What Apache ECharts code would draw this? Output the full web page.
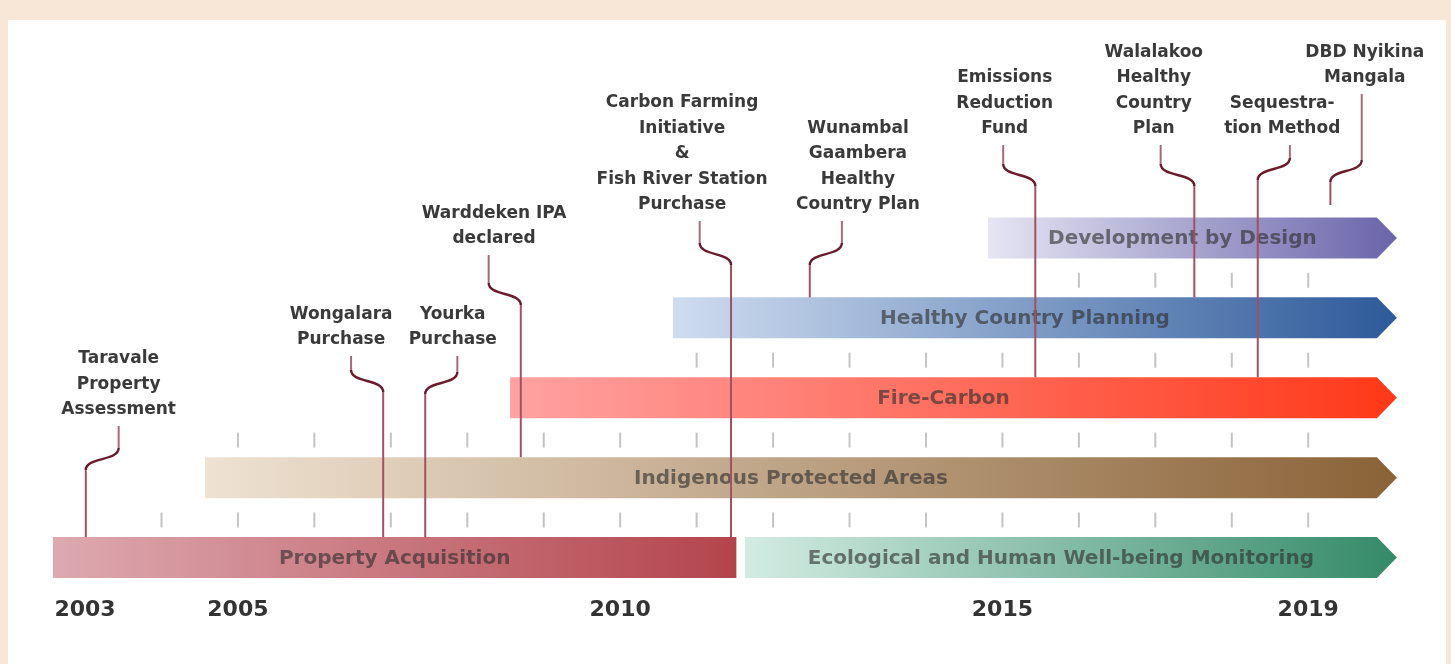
<!DOCTYPE html>
<html>
<head>
<meta charset="utf-8">
<script src="https://cdn.jsdelivr.net/npm/echarts@6/dist/echarts.min.js"></script>
<style>
html,body{margin:0;padding:0;background:#f8e6d6;}
#chart{width:1451px;height:664px;}
</style>
</head>
<body>
<div id="chart"></div>
<script>
// ---------------- data ----------------
const programNames = ['Property Acquisition', 'Ecological and Human Well-being Monitoring', 'Indigenous Protected Areas', 'Fire-Carbon', 'Healthy Country Planning', 'Development by Design'];
const programRows = [0, 0, 1, 2, 3, 4];
const programStart = [2002.58, 2011.63, 2004.57, 2008.56, 2010.69, 2014.81];
const programEnd = [2011.52, 2020.16, 2020.16, 2020.16, 2020.16, 2020.16];
const programOngoing = [false, true, true, true, true, true];

const yearLabels = [2003, 2005, 2010, 2015, 2019];
const tickGapFirstYear = [2004, 2005, 2011, 2016];   // first year tick in the gap above row i
const tickLastYear = 2019;

const eventNames = [
  'Taravale\nProperty\nAssessment',
  'Wongalara\nPurchase',
  'Yourka\nPurchase',
  'Warddeken IPA\ndeclared',
  'Carbon Farming\nInitiative\n&\nFish River Station\nPurchase',
  'Wunambal\nGaambera\nHealthy\nCountry Plan',
  'Emissions\nReduction\nFund',
  'Walalakoo\nHealthy\nCountry\nPlan',
  'Sequestra-\ntion Method',
  'DBD Nyikina\nMangala'
];
const eventYears = [2003.01, 2006.90, 2007.45, 2008.70, 2011.45, 2012.48, 2015.43, 2017.51, 2018.34, 2019.29];
const eventRows = [0, 0, 0, 1, 0, 3, 2, 3, 2, null];

// ---------------- layout (label placement) ----------------
const eventStemYear  = [2003.44, 2006.48, 2007.87, 2008.28, 2011.04, 2012.90, 2015.01, 2017.07, 2018.76, 2019.70];
const eventLabelYear = [2003.44, 2006.35, 2007.81, 2008.35, 2010.81, 2013.11, 2015.03, 2016.98, 2018.66, 2019.74];
const eventBendLevel = [1.370, 2.347, 2.322, 3.436, 3.936, 3.936, 4.925, 4.925, 5.000, 4.975];
const eventLabelLevel = [1.846, 2.722, 2.722, 3.986, 4.412, 4.412, 5.363, 5.363, 5.363, 6.001];

// ---------------- styles ----------------
const barColors = [
  ['#dda9b0', '#b4444c'],
  ['#d3ece3', '#348a68'],
  ['#efe2d2', '#8a6237'],
  ['#ffa2a2', '#ff3818'],
  ['#cfdcf0', '#2d5a9a'],
  ['#e5e5f3', '#6a64aa']
];
const BAR_H = 0.513;
const ARROW_LEN = 20;
const CURVE_H = 22;
const LINE_H = 25.5;
const FONT = '"DejaVu Sans", Verdana, sans-serif';

const chart = echarts.init(document.getElementById('chart'), null, {renderer: 'canvas'});

const barData = programStart.map((s, i) => [s, programEnd[i], programRows[i]]);
const tickData = [];
tickGapFirstYear.forEach((y0, g) => {
  for (let y = y0; y <= tickLastYear; y++) tickData.push([y, g]);
});
const eventData = eventYears.map((x, i) => [x, eventBendLevel[i]]);

function renderBar(params, api) {
  const i = params.dataIndex;
  const row = api.value(2);
  const a = api.coord([api.value(0), row]);
  const b = api.coord([api.value(1), row]);
  const h = api.size([0, BAR_H])[1];
  const top = a[1] - h / 2, bot = a[1] + h / 2;
  const arr = programOngoing[i] ? ARROW_LEN : 0;
  const pts = arr
    ? [[a[0], top], [b[0] - arr, top], [b[0], a[1]], [b[0] - arr, bot], [a[0], bot]]
    : [[a[0], top], [b[0], top], [b[0], bot], [a[0], bot]];
  return {
    type: 'group',
    children: [
      {
        type: 'polygon',
        shape: {points: pts},
        style: {
          fill: {type: 'linear', x: 0, y: 0, x2: 1, y2: 0,
                 colorStops: [{offset: 0, color: barColors[i][0]}, {offset: 1, color: barColors[i][1]}]}
        }
      },
      {
        type: 'text',
        style: {
          text: programNames[i],
          x: (a[0] + b[0] - arr) / 2,
          y: a[1] + 1,
          align: 'center',
          verticalAlign: 'middle',
          fontSize: 20,
          fontWeight: 'bold',
          fontFamily: FONT,
          fill: 'rgba(45,45,45,0.62)'
        }
      }
    ]
  };
}

function renderTick(params, api) {
  const p = api.coord([api.value(0), api.value(1) + 0.47]);
  return {
    type: 'line',
    shape: {x1: p[0], y1: p[1] - 7.5, x2: p[0], y2: p[1] + 7.5},
    style: {stroke: '#c4c4c4', lineWidth: 2}
  };
}

function renderEvent(params, api) {
  const i = params.dataIndex;
  const xL = api.coord([eventYears[i], 0])[0];
  const xU = api.coord([eventStemYear[i], 0])[0];
  const yt = api.coord([0, eventBendLevel[i]])[1];
  const yb = yt + CURVE_H;
  const yEnd = eventRows[i] === null ? yb + 23 : api.coord([0, eventRows[i] + BAR_H / 2])[1];
  const yLab = api.coord([0, eventLabelLevel[i]])[1];
  const xLab = api.coord([eventLabelYear[i], 0])[0];
  const yStemTop = yLab + 16;
  return {
    type: 'group',
    children: [
      {type: 'line', shape: {x1: xL, y1: yEnd, x2: xL, y2: yb},
       style: {stroke: '#a5505f', lineWidth: 2}},
      {type: 'bezierCurve',
       shape: {x1: xL, y1: yb, cpx1: xL, cpy1: yb - 0.6 * CURVE_H, cpx2: xU, cpy2: yt + 0.6 * CURVE_H, x2: xU, y2: yt},
       style: {stroke: '#6a1c2c', lineWidth: 2.4, fill: null}},
      {type: 'line', shape: {x1: xU, y1: yt, x2: xU, y2: yStemTop},
       style: {stroke: '#a86a78', lineWidth: 2}},
      {type: 'text',
       style: {
         text: eventNames[i],
         x: xLab, y: yLab + LINE_H / 2,
         align: 'center', verticalAlign: 'bottom',
         lineHeight: LINE_H,
         fontSize: 17, fontWeight: 'bold', fontFamily: FONT,
         fill: '#3a3a3a'
       }}
    ]
  };
}

chart.setOption({
  animation: false,
  backgroundColor: '#f8e6d6',
  graphic: [{
    type: 'rect', z: -10, silent: true,
    shape: {x: 8, y: 20, width: 1438, height: 644},
    style: {fill: '#ffffff'}
  }],
  grid: {left: 46.8, right: 28.1, top: 14.2, bottom: 74.5, containLabel: false},
  xAxis: {
    type: 'value', min: 2002.5, max: 2020.5,
    splitLine: {show: false}, axisLine: {show: false}, axisTick: {show: false},
    axisLabel: {
      customValues: yearLabels,
      formatter: v => String(v),
      margin: 10,
      fontSize: 22, fontWeight: 'bold', fontFamily: FONT, color: '#333'
    }
  },
  yAxis: {
    type: 'value', min: -0.4, max: 6.8, show: false,
    splitLine: {show: false}
  },
  series: [
    {type: 'custom', name: 'programs', renderItem: renderBar, data: barData,
     encode: {x: [0, 1], y: 2}, clip: false, z: 2},
    {type: 'custom', name: 'ticks', renderItem: renderTick, data: tickData,
     encode: {x: 0, y: 1}, clip: false, z: 3},
    {type: 'custom', name: 'events', renderItem: renderEvent, data: eventData,
     encode: {x: 0, y: 1}, clip: false, z: 4}
  ]
});
</script>
</body>
</html>
